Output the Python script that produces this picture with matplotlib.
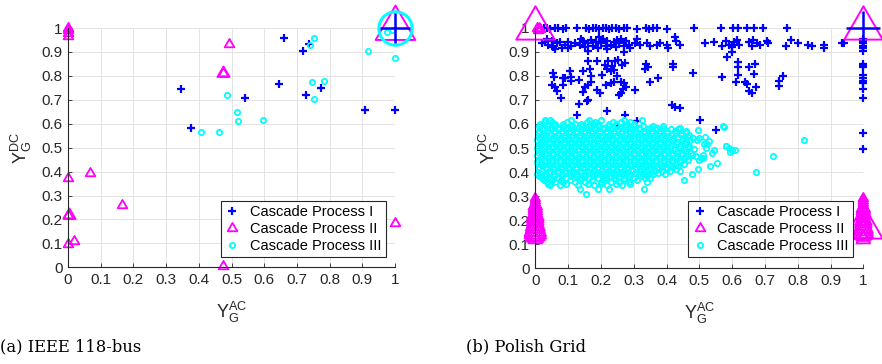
import numpy as np
from matplotlib import pyplot as plt
from matplotlib.path import Path

plt.rcParams['font.family'] = ['Liberation Sans', 'DejaVu Sans']
plt.rcParams['mathtext.fontset'] = 'custom'
plt.rcParams['mathtext.rm'] = 'Liberation Sans'

# ---------------- (a) IEEE 118-bus ----------------
a1_x = [0.346, 0.376, 0.540, 0.661, 0.644, 0.720, 0.736, 0.727, 0.773, 0.907, 1.0]
a1_y = [0.746, 0.582, 0.707, 0.959, 0.766, 0.903, 0.934, 0.720, 0.750, 0.659, 0.659]
a2_x = [0.0, 0.0, 0.0, 0.0, 0.492, 0.474, 0.001, 0.066, 0.166, 0.001, 0.018, 0.001, 0.475, 1.0]
a2_y = [1.0, 0.99, 0.98, 0.965, 0.932, 0.813, 0.372, 0.395, 0.262, 0.219, 0.111, 0.097, 0.005, 0.186]
a3_x = [0.406, 0.462, 0.486, 0.517, 0.519, 0.596, 0.739, 0.751, 0.747, 0.751, 0.784, 0.918, 1.0, 0.977, 0.99]
a3_y = [0.564, 0.564, 0.720, 0.649, 0.610, 0.617, 0.929, 0.959, 0.776, 0.703, 0.778, 0.905, 0.875, 0.982, 0.99]
# heavily repeated points (drawn with large markers)
a1_big = [(1.0, 1.0)]
a2_big = [(1.0, 1.0)]
a3_big = [(1.0, 1.0)]
a2_mid = [(0.474, 0.813), (0.002, 0.219)]

# ---------------- (b) Polish Grid ----------------
b1_x = [0.025, 0.035, 0.045, 0.06, 0.07, 0.085, 0.095, 0.126, 0.155, 0.165, 0.175, 0.185, 0.195,
        0.205, 0.215, 0.225, 0.235, 0.245, 0.255, 0.27, 0.28, 0.31, 0.338, 0.348, 0.36, 0.372,
        0.40, 0.483, 0.565, 0.604, 0.617, 0.644, 0.668, 0.693, 0.767,
        0.02, 0.03, 0.04, 0.05, 0.055, 0.065, 0.075, 0.08, 0.09, 0.1, 0.11, 0.12, 0.135, 0.145,
        0.15, 0.16, 0.17, 0.175, 0.185, 0.19, 0.2, 0.205, 0.215, 0.22, 0.23, 0.24, 0.245, 0.255,
        0.26, 0.27, 0.275, 0.285, 0.29, 0.305, 0.32, 0.34, 0.35, 0.37, 0.38, 0.4, 0.425, 0.43,
        0.44, 0.517, 0.545, 0.57, 0.58, 0.59, 0.6, 0.605, 0.615, 0.62, 0.6, 0.585, 0.65, 0.66,
        0.665, 0.675, 0.685, 0.705, 0.71, 0.765, 0.78, 0.8, 0.83, 0.845, 0.88, 0.88, 0.935, 0.94,
        0.16, 0.27, 0.405, 0.22, 0.1, 0.06, 0.195, 0.25, 0.31, 0.035, 0.14,
        1.0, 1.0, 1.0, 1.0, 1.0, 1.0, 1.0, 1.0, 1.0, 1.0, 1.0, 1.0, 1.0, 1.0, 1.0, 1.0, 1.0,
        0.162, 0.055, 0.058, 0.083, 0.106, 0.108, 0.05, 0.06, 0.065, 0.078, 0.083, 0.134, 0.146,
        0.15, 0.16, 0.17, 0.162, 0.134, 0.167, 0.17, 0.202, 0.213, 0.223, 0.233, 0.243, 0.253,
        0.263, 0.273, 0.22, 0.23, 0.24, 0.25, 0.23, 0.24, 0.215, 0.26, 0.27, 0.275, 0.268, 0.262,
        0.304, 0.187, 0.126, 0.218, 0.273, 0.309, 0.338, 0.345, 0.335, 0.35, 0.374, 0.42, 0.42,
        0.48, 0.416, 0.425, 0.44, 0.568, 0.617, 0.617, 0.617, 0.612, 0.64, 0.644, 0.652, 0.67,
        0.668, 0.673, 0.652, 0.66, 0.754, 0.743, 0.742, 0.502, 0.551, 0.25, 0.09, 0.11, 0.187,
        0.197, 0.255, 0.145, 0.157]
b1_y = [1.0, 1.0, 0.995, 1.0, 1.0, 0.995, 1.0, 1.0, 1.0, 0.995, 1.0, 1.0, 0.995,
        1.0, 1.0, 0.995, 1.0, 1.0, 0.995, 1.0, 1.0, 0.995, 1.0, 0.995, 1.0, 1.0,
        0.995, 1.0, 1.0, 1.0, 1.0, 1.0, 1.0, 1.0, 1.0,
        0.935, 0.94, 0.93, 0.945, 0.92, 0.935, 0.94, 0.915, 0.93, 0.94, 0.925, 0.935, 0.93, 0.945,
        0.92, 0.935, 0.95, 0.925, 0.94, 0.915, 0.935, 0.955, 0.925, 0.945, 0.93, 0.94, 0.92, 0.935,
        0.955, 0.925, 0.945, 0.93, 0.915, 0.935, 0.93, 0.935, 0.925, 0.93, 0.935, 0.93, 0.96, 0.945,
        0.93, 0.935, 0.94, 0.925, 0.945, 0.93, 0.92, 0.94, 0.95, 0.93, 0.9, 0.88, 0.94, 0.925,
        0.95, 0.935, 0.93, 0.945, 0.935, 0.925, 0.95, 0.935, 0.93, 0.925, 0.93, 0.915, 0.935, 0.935,
        0.905, 0.9, 0.915, 0.91, 0.915, 0.91, 0.96, 0.95, 0.955, 0.955, 0.955,
        0.955, 0.945, 0.935, 0.925, 0.915, 0.905, 0.848, 0.84, 0.835, 0.803, 0.79, 0.78, 0.77,
        0.745, 0.707, 0.561, 0.495,
        0.862, 0.81, 0.796, 0.79, 0.82, 0.796, 0.762, 0.755, 0.737, 0.707, 0.762, 0.783, 0.734,
        0.755, 0.762, 0.776, 0.70, 0.682, 0.83, 0.80, 0.803, 0.845, 0.86, 0.84, 0.86, 0.865,
        0.845, 0.855, 0.83, 0.82, 0.825, 0.80, 0.77, 0.775, 0.76, 0.776, 0.77, 0.755, 0.745, 0.727,
        0.741, 0.741, 0.637, 0.654, 0.637, 0.612, 0.848, 0.835, 0.83, 0.776, 0.79, 0.848, 0.835,
        0.81, 0.68, 0.67, 0.665, 0.796, 0.856, 0.835, 0.803, 0.776, 0.776, 0.766, 0.835, 0.848,
        0.806, 0.755, 0.737, 0.727, 0.80, 0.78, 0.758, 0.616, 0.575, 0.59, 0.79, 0.78, 0.86,
        0.73, 0.72, 0.82, 0.697]

b2_x = [0.005, 0.01, 0.015, 0.008]
b2_y = [1.0, 1.0, 0.995, 0.99]
# stacked triangles at x = 0 and x = 1 (count per level)
b2_col_y = [0.29, 0.28, 0.27, 0.26, 0.25, 0.24, 0.23, 0.22, 0.21, 0.20, 0.19, 0.18, 0.17,
            0.16, 0.15, 0.14, 0.13, 0.12]
b2_col_n0 = [1, 1, 1, 2, 2, 2, 2, 3, 3, 3, 3, 4, 4, 5, 5, 4, 3, 2]
b2_col_n1 = [1, 1, 1, 1, 2, 2, 2, 2, 2, 3, 3, 3, 4, 4, 4, 3, 2, 2]
b1_big = [(1.0, 1.0)]
b2_big = [(0.0, 1.0), (1.0, 1.0), (1.0, 0.17)]

# cyan cluster, read row by row
b3_rows_y = [0.615, 0.60, 0.585, 0.57, 0.555, 0.54, 0.525, 0.51, 0.495, 0.48, 0.465, 0.45,
             0.435, 0.42, 0.405, 0.39, 0.375, 0.36, 0.345, 0.33, 0.31,
             0.607, 0.592, 0.577, 0.562, 0.547, 0.532, 0.517, 0.502, 0.487, 0.472, 0.457, 0.442,
             0.427, 0.412, 0.397, 0.382, 0.367, 0.352]
b3_rows_x = [
    [0.03, 0.045, 0.11, 0.165, 0.2, 0.27, 0.325],
    [0.015, 0.04, 0.06, 0.085, 0.12, 0.14, 0.175, 0.19, 0.225, 0.245, 0.28, 0.3],
    [0.025, 0.05, 0.07, 0.1, 0.13, 0.155, 0.18, 0.21, 0.235, 0.26, 0.29, 0.315, 0.35, 0.37, 0.44],
    [0.01, 0.035, 0.06, 0.08, 0.105, 0.125, 0.15, 0.17, 0.195, 0.215, 0.24, 0.265, 0.285, 0.305,
     0.33, 0.355, 0.38, 0.4, 0.425, 0.46],
    [0.02, 0.045, 0.07, 0.09, 0.115, 0.135, 0.16, 0.185, 0.205, 0.23, 0.25, 0.275, 0.3, 0.32,
     0.345, 0.365, 0.39, 0.415, 0.445, 0.47],
    [0.012, 0.03, 0.055, 0.078, 0.1, 0.122, 0.145, 0.168, 0.19, 0.212, 0.235, 0.258, 0.28, 0.302,
     0.325, 0.348, 0.37, 0.395, 0.42, 0.45, 0.48],
    [0.022, 0.044, 0.066, 0.088, 0.11, 0.132, 0.155, 0.178, 0.2, 0.222, 0.245, 0.268, 0.29, 0.312,
     0.335, 0.358, 0.38, 0.405, 0.432, 0.46],
    [0.008, 0.03, 0.052, 0.075, 0.097, 0.12, 0.142, 0.165, 0.188, 0.21, 0.232, 0.255, 0.278, 0.3,
     0.322, 0.345, 0.368, 0.39, 0.415, 0.44, 0.47],
    [0.018, 0.04, 0.062, 0.085, 0.108, 0.13, 0.152, 0.175, 0.198, 0.22, 0.242, 0.265, 0.288, 0.31,
     0.332, 0.355, 0.378, 0.4, 0.425, 0.455, 0.485],
    [0.01, 0.032, 0.055, 0.077, 0.1, 0.122, 0.145, 0.168, 0.19, 0.212, 0.235, 0.258, 0.28, 0.302,
     0.325, 0.348, 0.37, 0.392, 0.418, 0.445, 0.475],
    [0.02, 0.043, 0.066, 0.088, 0.11, 0.133, 0.156, 0.178, 0.2, 0.223, 0.246, 0.268, 0.29, 0.313,
     0.336, 0.358, 0.38, 0.405, 0.43, 0.46, 0.49],
    [0.008, 0.03, 0.052, 0.075, 0.098, 0.12, 0.143, 0.166, 0.188, 0.21, 0.233, 0.256, 0.278, 0.3,
     0.323, 0.346, 0.368, 0.392, 0.418, 0.44, 0.465],
    [0.018, 0.04, 0.063, 0.086, 0.108, 0.131, 0.154, 0.176, 0.198, 0.221, 0.244, 0.266, 0.288,
     0.311, 0.334, 0.356, 0.38, 0.405, 0.428, 0.452],
    [0.01, 0.032, 0.055, 0.078, 0.1, 0.123, 0.146, 0.168, 0.19, 0.213, 0.236, 0.258, 0.28, 0.303,
     0.326, 0.35, 0.372, 0.398, 0.42],
    [0.02, 0.045, 0.068, 0.09, 0.112, 0.135, 0.158, 0.18, 0.203, 0.226, 0.248, 0.27, 0.295, 0.318,
     0.342, 0.365, 0.385, 0.41, 0.44],
    [0.005, 0.03, 0.058, 0.08, 0.105, 0.128, 0.15, 0.175, 0.198, 0.22, 0.245, 0.268, 0.29, 0.315,
     0.338, 0.36, 0.395],
    [0.02, 0.045, 0.07, 0.095, 0.14, 0.165, 0.19, 0.215, 0.24, 0.27, 0.3, 0.335, 0.35],
    [0.035, 0.06, 0.085, 0.12, 0.15, 0.2, 0.23, 0.255, 0.285, 0.34],
    [0.045, 0.075, 0.13, 0.18, 0.22, 0.265],
    [0.135, 0.19, 0.225, 0.33],
    [0.155],
    [0.025, 0.052, 0.098, 0.158, 0.183, 0.236, 0.262, 0.29],
    [0.012, 0.036, 0.06, 0.088, 0.112, 0.142, 0.168, 0.195, 0.222, 0.248, 0.272, 0.302, 0.328,
     0.36, 0.39],
    [0.02, 0.046, 0.07, 0.094, 0.116, 0.138, 0.162, 0.186, 0.206, 0.228, 0.252, 0.276, 0.296,
     0.318, 0.342, 0.366, 0.39, 0.413, 0.436],
    [0.008, 0.028, 0.056, 0.08, 0.102, 0.126, 0.148, 0.172, 0.194, 0.218, 0.24, 0.262, 0.288,
     0.31, 0.334, 0.356, 0.378, 0.402, 0.43, 0.458],
    [0.016, 0.04, 0.064, 0.088, 0.11, 0.134, 0.156, 0.18, 0.202, 0.224, 0.246, 0.27, 0.292,
     0.314, 0.336, 0.36, 0.382, 0.408, 0.434, 0.465],
    [0.006, 0.033, 0.055, 0.077, 0.099, 0.121, 0.143, 0.166, 0.189, 0.211, 0.233, 0.256, 0.279,
     0.301, 0.323, 0.346, 0.369, 0.392, 0.418, 0.446, 0.472],
    [0.018, 0.041, 0.063, 0.086, 0.108, 0.131, 0.153, 0.176, 0.199, 0.221, 0.243, 0.266, 0.289,
     0.311, 0.333, 0.356, 0.379, 0.402, 0.428, 0.455],
    [0.004, 0.028, 0.05, 0.073, 0.096, 0.118, 0.141, 0.163, 0.186, 0.209, 0.231, 0.253, 0.276,
     0.299, 0.321, 0.343, 0.366, 0.389, 0.412, 0.438, 0.465],
    [0.02, 0.043, 0.066, 0.088, 0.111, 0.134, 0.156, 0.179, 0.201, 0.224, 0.247, 0.269, 0.292,
     0.314, 0.337, 0.36, 0.382, 0.406, 0.432, 0.46],
    [0.006, 0.03, 0.052, 0.075, 0.097, 0.12, 0.142, 0.165, 0.187, 0.21, 0.232, 0.255, 0.277, 0.3,
     0.323, 0.345, 0.368, 0.393, 0.418, 0.447, 0.478],
    [0.018, 0.041, 0.064, 0.086, 0.109, 0.131, 0.154, 0.177, 0.199, 0.222, 0.244, 0.267, 0.289,
     0.312, 0.335, 0.357, 0.381, 0.406, 0.432, 0.455],
    [0.005, 0.029, 0.051, 0.074, 0.097, 0.12, 0.142, 0.165, 0.187, 0.21, 0.232, 0.255, 0.277,
     0.3, 0.322, 0.345, 0.368, 0.392, 0.416, 0.44],
    [0.022, 0.044, 0.067, 0.09, 0.112, 0.135, 0.157, 0.18, 0.202, 0.225, 0.247, 0.27, 0.292,
     0.315, 0.338, 0.36, 0.385, 0.41, 0.434],
    [0.008, 0.034, 0.057, 0.08, 0.102, 0.125, 0.147, 0.17, 0.192, 0.215, 0.237, 0.26, 0.283,
     0.306, 0.33, 0.354, 0.376, 0.402, 0.43],
    [0.015, 0.042, 0.068, 0.092, 0.116, 0.139, 0.162, 0.186, 0.21, 0.233, 0.256, 0.279, 0.303,
     0.326, 0.35, 0.375],
    [0.01, 0.033, 0.058, 0.082, 0.11, 0.128, 0.152, 0.178, 0.203, 0.228, 0.255, 0.285, 0.318, 0.342],
    [0.028, 0.052, 0.078, 0.105, 0.135, 0.172, 0.208, 0.242, 0.27, 0.31],
    [0.04, 0.095, 0.16, 0.2, 0.245, 0.29],
]
b3_out_x = [0.497, 0.576, 0.580, 0.594, 0.609, 0.819, 0.724, 0.673, 0.553, 0.533, 0.538, 0.510,
            0.497, 0.454, 0.477, 0.518, 0.523, 0.492, 0.573, 0.58, 0.59, 0.6, 0.51, 0.505, 0.5,
            0.52, 0.513, 0.53, 0.5, 0.545]
b3_out_y = [0.575, 0.589, 0.509, 0.485, 0.492, 0.534, 0.467, 0.400, 0.437, 0.425, 0.481, 0.460,
            0.411, 0.367, 0.391, 0.544, 0.516, 0.535, 0.593, 0.51, 0.50, 0.49, 0.47, 0.457, 0.45,
            0.50, 0.515, 0.53, 0.54, 0.49]

tick_vals = [0, 0.1, 0.2, 0.3, 0.4, 0.5, 0.6, 0.7, 0.8, 0.9, 1]
tick_labels = ['0', '0.1', '0.2', '0.3', '0.4', '0.5', '0.6', '0.7', '0.8', '0.9', '1']
legend_labels = ['Cascade Process I', 'Cascade Process II', 'Cascade Process III']

BLUE, MAG, CYAN = '#0000ff', '#ff00ff', '#00ffff'
AXC = '#262626'
# MATLAB-like triangle: centroid on the data point
TRI = Path([(0, 1), (-0.866, -0.5), (0.866, -0.5), (0, 1)],
           [Path.MOVETO, Path.LINETO, Path.LINETO, Path.CLOSEPOLY])


def style_axes(ax, xlab_y, ylab_x):
    ax.set_xlim(0, 1)
    ax.set_ylim(0, 1)
    ax.set_xticks(tick_vals, tick_labels)
    ax.set_yticks(tick_vals, tick_labels)
    ax.grid(True, color='#e3e3e3', linewidth=0.7)
    ax.set_axisbelow(True)
    for s in ['top', 'right']:
        ax.spines[s].set_visible(False)
    for s in ['left', 'bottom']:
        ax.spines[s].set_color(AXC)
        ax.spines[s].set_linewidth(0.8)
    ax.tick_params(direction='in', length=3, width=0.6, colors=AXC, labelsize=11, pad=4)
    ax.set_xlabel(r'$\mathrm{Y}_{\mathrm{G}}^{\mathrm{AC}}$', fontsize=13, color=AXC)
    ax.set_ylabel(r'$\mathrm{Y}_{\mathrm{G}}^{\mathrm{DC}}$', fontsize=13, color=AXC)
    ax.xaxis.set_label_coords(0.5, xlab_y)
    ax.yaxis.set_label_coords(ylab_x, 0.5)


def small(ax, x, y, kind, label=None):
    if kind == 1:
        ax.plot(x, y, ls='none', marker='+', ms=6, mew=1.6, color=BLUE, clip_on=False, label=label)
    elif kind == 2:
        ax.plot(x, y, ls='none', marker=TRI, ms=8, mew=1.3, mec=MAG, mfc='none', clip_on=False,
                label=label)
    else:
        ax.plot(x, y, ls='none', marker='o', ms=3.8, mew=1.3, mec=CYAN, mfc='none', clip_on=False,
                label=label)


def big(ax, pts, kind, ms):
    xs = [p[0] for p in pts]
    ys = [p[1] for p in pts]
    if kind == 1:
        ax.plot(xs, ys, ls='none', marker='+', ms=ms, mew=1.8, color=BLUE, clip_on=False)
    elif kind == 2:
        ax.plot(xs, ys, ls='none', marker=TRI, ms=ms, mew=1.4, mec=MAG, mfc='none', clip_on=False)
    else:
        ax.plot(xs, ys, ls='none', marker='o', ms=ms, mew=2.2, mec=CYAN, mfc='none', clip_on=False)


fig = plt.figure(figsize=(8.82, 3.64), dpi=100)
ax1 = fig.add_axes([68 / 882, 1 - 267.3 / 364, 327 / 882, 239.3 / 364])
ax2 = fig.add_axes([535.3 / 882, 1 - 268.3 / 364, 328 / 882, 240.6 / 364])

# (a)
small(ax1, a1_x, a1_y, 1, legend_labels[0])
small(ax1, a2_x, a2_y, 2, legend_labels[1])
big(ax1, a2_mid, 2, 10)
small(ax1, a3_x, a3_y, 3, legend_labels[2])
big(ax1, a2_big, 2, 33)
big(ax1, a3_big, 3, 24)
big(ax1, a1_big, 1, 22)
style_axes(ax1, -0.137, -0.104)
leg = ax1.legend(loc='lower right', bbox_to_anchor=(0.972, 0.042), fontsize=10.5, frameon=True,
                 fancybox=False, edgecolor=AXC, framealpha=1, labelspacing=0.2, handlelength=1.0,
                 handletextpad=0.7, borderpad=0.3, borderaxespad=0)
leg.get_frame().set_linewidth(0.8)

# (b)
small(ax2, b1_x, b1_y, 1, legend_labels[0])
small(ax2, b2_x, b2_y, 2, legend_labels[1])
for xc, counts in [(0.0, b2_col_n0), (1.0, b2_col_n1)]:
    ax2.scatter([xc] * len(b2_col_y), b2_col_y, s=[(8 * np.sqrt(n)) ** 2 for n in counts],
                marker=TRI, facecolors='none', edgecolors=MAG, linewidths=1.3, clip_on=False)
b3_x = [x for row in b3_rows_x for x in row] + b3_out_x
b3_y = [yv for yv, row in zip(b3_rows_y, b3_rows_x) for _ in row] + b3_out_y
small(ax2, b3_x, b3_y, 3, legend_labels[2])
big(ax2, b2_big, 2, 32)
big(ax2, b1_big, 1, 24)
style_axes(ax2, -0.137, -0.10)
leg = ax2.legend(loc='lower right', bbox_to_anchor=(0.969, 0.046), fontsize=10.5, frameon=True,
                 fancybox=False, edgecolor=AXC, framealpha=1, labelspacing=0.2, handlelength=1.0,
                 handletextpad=0.7, borderpad=0.3, borderaxespad=0)
leg.get_frame().set_linewidth(0.8)

fig.text(0.0, 1 - 347 / 364, '(a) IEEE 118-bus', family='DejaVu Serif', fontsize=11.8, va='center')
fig.text(466 / 882, 1 - 347 / 364, '(b) Polish Grid', family='DejaVu Serif', fontsize=11.8,
         va='center')

fig.savefig('out.png', dpi=100)
